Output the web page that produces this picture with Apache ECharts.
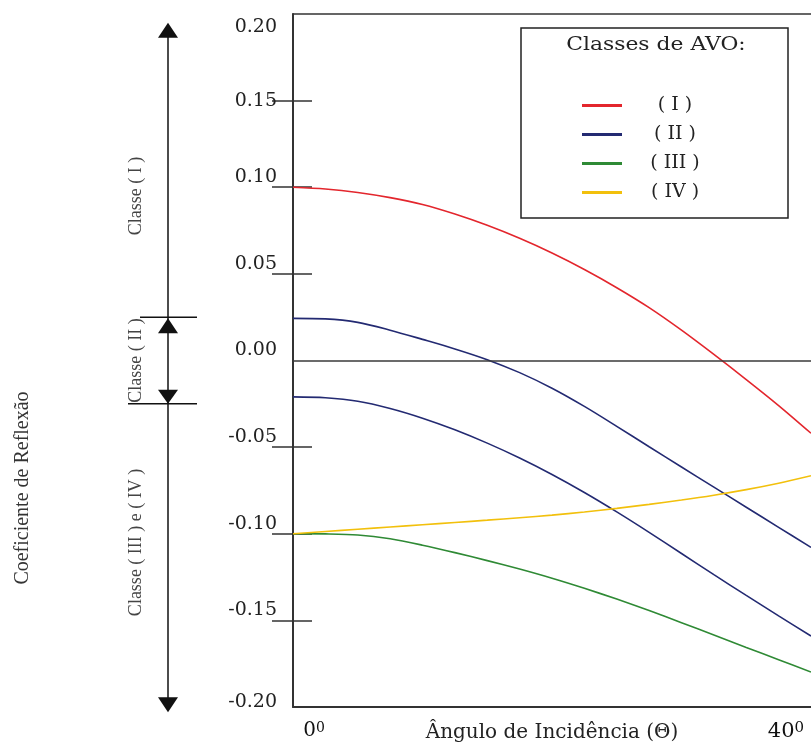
<!DOCTYPE html>
<html>
<head>
<meta charset="utf-8">
<script src="https://cdn.jsdelivr.net/npm/echarts@6/dist/echarts.min.js"></script>
<style>
html,body{margin:0;padding:0;background:#fff;}
#c{width:811px;height:744px;}
</style>
</head>
<body>
<div id="c"></div>
<script>
// ---- data ----
const angles   = [0, 2.5, 5, 7.5, 10, 12.5, 15, 17.5, 20, 22.5, 25, 27.5, 30, 32.5, 35, 37.5, 40];
const classI   = [0.100, 0.099, 0.097, 0.094, 0.090, 0.0845, 0.078, 0.0705, 0.062, 0.0525, 0.042, 0.0305, 0.0175, 0.0035, -0.011, -0.026, -0.042];
const classIIa = [0.0243, 0.024, 0.022, 0.0175, 0.0122, 0.0067, 0.0005, -0.007, -0.016, -0.0265, -0.038, -0.0498, -0.0615, -0.0731, -0.0847, -0.0963, -0.1079];
const classIIb = [-0.021, -0.0215, -0.0235, -0.0277, -0.0333, -0.040, -0.0477, -0.0563, -0.0658, -0.0762, -0.0874, -0.0992, -0.1114, -0.1236, -0.1356, -0.1474, -0.159];
const classIII = [-0.100, -0.1001, -0.1007, -0.1029, -0.1066, -0.1109, -0.1155, -0.1204, -0.1257, -0.1315, -0.1377, -0.1443, -0.1513, -0.1584, -0.1656, -0.1727, -0.1798];
const classIV  = [-0.100, -0.0987, -0.0974, -0.0961, -0.0948, -0.0935, -0.09215, -0.09075, -0.08925, -0.08745, -0.08535, -0.08305, -0.08055, -0.07775, -0.07455, -0.07085, -0.06655];

const yTickValues   = [0.15, 0.10, 0.05, -0.05, -0.10, -0.15];
const xTickLabels   = ['0', '40'];
const legendNames   = ['( I )', '( II )', '( III )', '( IV )'];
const legendTitle   = 'Classes de AVO:';
const yTitle        = 'Coeficiente de Reflexão';
const xTitle        = 'Ângulo de Incidência (Θ)';
const classTexts    = ['Classe ( I )', 'Classe ( II )', 'Classe ( III ) e ( IV )'];
const classTextAt   = [0.095, 0.0, -0.105];          // value where each class label is centred
const arrowStops    = [0.195, 0.025, -0.025, -0.203]; // top tip, II upper bound, II lower bound, bottom tip

// ---- chart ----
const SERIF = '"DejaVu Serif", "Liberation Serif", serif';
const TIMES = '"Liberation Serif", "Times New Roman", serif';
const chart = echarts.init(document.getElementById('c'), null, {renderer: 'canvas'});

function lineSeries(name, vals, color) {
  return {
    name: name, type: 'line', smooth: 0.3, symbol: 'none', z: 3,
    data: angles.map((a, i) => [a, vals[i]]),
    lineStyle: {color: color, width: 1.6},
    itemStyle: {color: color}
  };
}

const s1 = lineSeries(legendNames[0], classI, '#e3262d');
s1.markLine = {
  silent: true, symbol: ['none', 'none'], label: {show: false},
  lineStyle: {color: '#3a3a3a', width: 1.5, type: 'solid'},
  data: [{yAxis: 0}]
};

function yLabel(v) {
  const s = Math.abs(v) < 1e-9 ? '0.00' : v.toFixed(2);
  let k = 'u';
  if (Math.abs(v - 0.20) < 1e-9) k = 'd';
  else if (Math.abs(v - 0.15) < 1e-9) k = 'c';
  else if (Math.abs(v + 0.20) < 1e-9) k = 'b';
  return '{' + k + '|' + s + '}';
}

const lblFont = {fontFamily: SERIF, fontSize: 19, color: '#222'};

chart.setOption({
  animation: false,
  backgroundColor: '#fff',
  grid: {left: 293, right: 0, top: 14, bottom: 37, containLabel: false, outerBoundsMode: 'none'},
  legend: {
    data: legendNames, orient: 'vertical', left: 577, top: 86,
    itemWidth: 40, itemHeight: 3, itemGap: 0, icon: 'rect', selectedMode: false,
    formatter: n => '{t|' + n + '}',
    textStyle: {
      fontFamily: SERIF, fontSize: 19, color: '#222', lineHeight: 29,
      rich: {t: {width: 96, align: 'center', fontFamily: SERIF, fontSize: 19, lineHeight: 29, color: '#222'}}
    }
  },
  xAxis: [{
    type: 'value', min: 0, max: 40, interval: 40, position: 'bottom',
    axisLine: {show: true, onZero: false, lineStyle: {color: '#333', width: 2}},
    axisTick: {show: false}, splitLine: {show: false},
    axisLabel: {
      margin: 14,
      formatter: v => (v === 0 ? '{a0|' + xTickLabels[0] + '}{s|0}' : '{a|' + xTickLabels[1] + '}{s4|0}'),
      rich: {
        a0: {fontFamily: SERIF, fontSize: 20, color: '#111', padding: [0, 0, 0, 42]},
        a:  {fontFamily: SERIF, fontSize: 21, color: '#111'},
        s:  {fontFamily: SERIF, fontSize: 14, color: '#111', verticalAlign: 'top'},
        s4: {fontFamily: SERIF, fontSize: 15, color: '#111', verticalAlign: 'top', padding: [0, 50, 0, 0]}
      }
    },
    name: xTitle, nameLocation: 'middle', nameGap: 16, nameMoveOverlap: false,
    nameTextStyle: {fontFamily: SERIF, fontSize: 20, color: '#222'}
  }, {
    type: 'value', min: 0, max: 40, position: 'top',
    axisLine: {show: true, onZero: false, lineStyle: {color: '#333', width: 1.5}},
    axisTick: {show: false}, axisLabel: {show: false}, splitLine: {show: false}
  }],
  yAxis: [{
    type: 'value', min: -0.2, max: 0.2, interval: 0.05, position: 'left', offset: 0,
    axisLine: {show: true, onZero: false, lineStyle: {color: '#333', width: 2}},
    axisTick: {show: true, inside: false, length: 21, customValues: yTickValues, lineStyle: {color: '#333', width: 1.5}},
    splitLine: {show: false},
    axisLabel: {
      margin: 16, formatter: yLabel, ...lblFont,
      rich: {
        u: {...lblFont, padding: [0, 0, 20, 0]},
        c: {...lblFont},
        d: {...lblFont, padding: [26, 0, 0, 0]},
        b: {...lblFont, padding: [0, 0, 10, 0]}
      }
    }
  }, {
    type: 'value', min: -0.2, max: 0.2, interval: 0.05, position: 'left', offset: 0,
    axisLine: {show: false},
    axisTick: {show: true, inside: true, length: 19, customValues: yTickValues, lineStyle: {color: '#333', width: 1.5}},
    axisLabel: {show: false}, splitLine: {show: false}
  }],
  series: [
    s1,
    lineSeries(legendNames[1], classIIa, '#232a72'),
    lineSeries(legendNames[1], classIIb, '#232a72'),
    lineSeries(legendNames[2], classIII, '#2f8a35'),
    lineSeries(legendNames[3], classIV, '#f2c00c')
  ]
});

// ---- annotations (positions derived from the y axis) ----
const py = v => chart.convertToPixel({yAxisIndex: 0}, v);
const AX = 168, HW = 10, AH = 15;
const yTop = py(arrowStops[0]), yB1 = py(arrowStops[1]), yB2 = py(arrowStops[2]), yBot = py(arrowStops[3]);
const blk = {stroke: '#111', lineWidth: 1.5};
const fillBlk = {fill: '#111'};

chart.setOption({
  graphic: [
    {type: 'line', shape: {x1: AX, y1: yTop + 2, x2: AX, y2: yBot - 2}, style: blk, silent: true},
    {type: 'polygon', shape: {points: [[AX, yTop], [AX - HW, yTop + AH], [AX + HW, yTop + AH]]}, style: fillBlk, silent: true},
    {type: 'line', shape: {x1: 140, y1: yB1, x2: 197, y2: yB1}, style: blk, silent: true},
    {type: 'polygon', shape: {points: [[AX, yB1 + 1], [AX - HW, yB1 + 1 + AH], [AX + HW, yB1 + 1 + AH]]}, style: fillBlk, silent: true},
    {type: 'polygon', shape: {points: [[AX, yB2], [AX - HW, yB2 - 14], [AX + HW, yB2 - 14]]}, style: fillBlk, silent: true},
    {type: 'line', shape: {x1: 128, y1: yB2, x2: 197, y2: yB2}, style: blk, silent: true},
    {type: 'polygon', shape: {points: [[AX, yBot], [AX - HW, yBot - AH], [AX + HW, yBot - AH]]}, style: fillBlk, silent: true},
    ...classTexts.map((t, i) => ({
      type: 'text', x: 136, y: py(classTextAt[i]), rotation: Math.PI / 2, silent: true,
      style: {text: t, fontFamily: TIMES, fontSize: 18, fill: '#444', align: 'center', verticalAlign: 'middle'}
    })),
    {type: 'text', x: 23, y: 488, rotation: Math.PI / 2, silent: true,
      style: {text: yTitle, fontFamily: TIMES, fontSize: 20, fill: '#333', align: 'center', verticalAlign: 'middle'}},
    {type: 'rect', shape: {x: 521, y: 28, width: 267, height: 190}, silent: true,
      style: {fill: null, stroke: '#222', lineWidth: 1.5}},
    {type: 'text', x: 656, y: 45, silent: true, scaleX: 1.15,
      style: {text: legendTitle, fontFamily: SERIF, fontSize: 19, fill: '#222', align: 'center', verticalAlign: 'middle'}}
  ]
});
</script>
</body>
</html>
